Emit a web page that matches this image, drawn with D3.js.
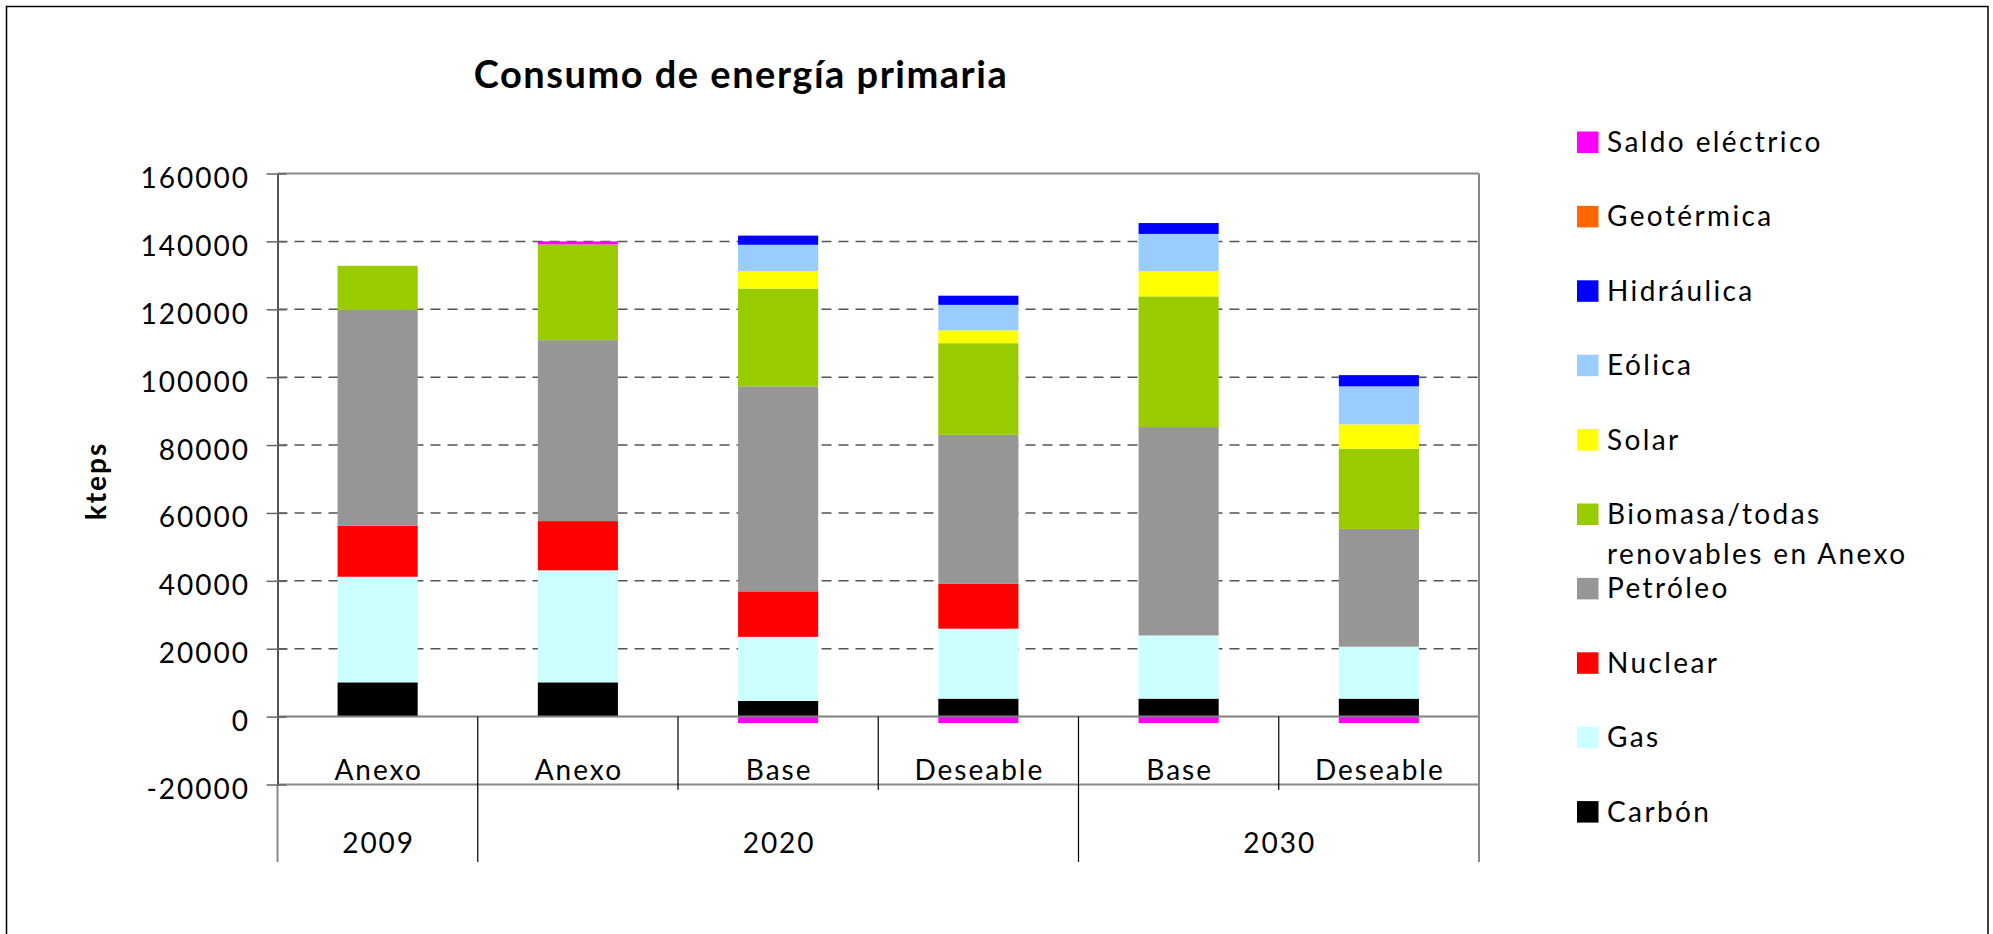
<!DOCTYPE html>
<html>
<head>
<meta charset="utf-8">
<script src="https://cdn.jsdelivr.net/npm/d3@7"></script>
<style>
body { margin: 0; background: #fff; }
text { font-family: Lato, "Open Sans", sans-serif; fill: #000; }
</style>
</head>
<body>
<script>
var escenarios = ["Anexo", "Anexo", "Base", "Deseable", "Base", "Deseable"];
var anios = ["2009", "2020", "2020", "2020", "2030", "2030"];
var fuentes = ["Carbón", "Gas", "Nuclear", "Petróleo", "Biomasa/todas renovables en Anexo",
    "Solar", "Eólica", "Hidráulica", "Geotérmica", "Saldo eléctrico"];
var colores = ["#000000", "#ccffff", "#ff0000", "#969696", "#99cc00",
    "#ffff00", "#99ccff", "#0000ff", "#ff6600", "#ff00ff"];

// kteps
var carbon = [10100, 10100, 4600, 5300, 5300, 5300];
var gas = [31100, 33000, 18900, 20600, 18600, 15300];
var nuclear = [15000, 14500, 13400, 13200, 0, 0];
var petroleo = [63600, 53300, 60400, 43900, 61400, 34700];
var biomasa = [13000, 28200, 28800, 27000, 38500, 23600];
var solar = [0, 0, 5200, 3800, 7500, 7200];
var eolica = [0, 0, 7700, 7500, 10900, 11200];
var hidraulica = [0, 0, 2700, 2700, 3200, 3300];
var geotermica = [0, 0, 0, 0, 0, 0];
var saldo = [0, 900, -1900, -1900, -1900, -1900];
var valores = [carbon, gas, nuclear, petroleo, biomasa, solar, eolica, hidraulica, geotermica, saldo];
var ticks = [-20000, 0, 20000, 40000, 60000, 80000, 100000, 120000, 140000, 160000];

var tabla = escenarios.map(function (e, i) {
    var fila = {id: String(i)};
    fuentes.forEach(function (f, j) { fila[f] = valores[j][i]; });
    return fila;
});
var ids = tabla.map(function (d) { return d.id; });

var x0 = 277.5, x1 = 1479, yBase = 862;

var svg = d3.select("body").append("svg")
    .attr("width", 1993)
    .attr("height", 934);

svg.append("rect")
    .attr("x", 6.5).attr("y", 6.5)
    .attr("width", 1981.5).attr("height", 940)
    .attr("fill", "#fff")
    .attr("stroke", "#000")
    .attr("stroke-width", 1.5);

var y = d3.scaleLinear().domain([-20000, 160000]).range([784.5, 173.5]);
var xCell = d3.scaleBand().domain(ids).range([x0, x1]);
var xBar = d3.scaleBand().domain(ids).range([x0, x1]).paddingInner(0.6).paddingOuter(0.3);

svg.append("text")
    .attr("x", 741)
    .attr("y", 88)
    .attr("text-anchor", "middle")
    .style("font-size", "38px")
    .style("font-weight", "bold")
    .style("letter-spacing", "1.5px")
    .text("Consumo de energía primaria");

svg.append("text")
    .attr("transform", "translate(96,481) rotate(-90)")
    .attr("text-anchor", "middle")
    .attr("dy", "0.35em")
    .style("font-size", "28px")
    .style("font-weight", "bold")
    .style("letter-spacing", "2px")
    .text("kteps");

// lineas de division
svg.append("g").selectAll("line")
    .data(ticks.filter(function (t) { return t != 0 && t != -20000 && t != 160000; }))
    .join("line")
    .attr("x1", x0).attr("x2", x1)
    .attr("y1", function (d) { return y(d); })
    .attr("y2", function (d) { return y(d); })
    .attr("stroke", "#555")
    .attr("stroke-width", 1.5)
    .attr("stroke-dasharray", "10,7");

svg.append("line")
    .attr("x1", x0).attr("x2", x1)
    .attr("y1", y(160000)).attr("y2", y(160000))
    .attr("stroke", "#888").attr("stroke-width", 2);
svg.append("line")
    .attr("x1", x1).attr("x2", x1)
    .attr("y1", y(160000)).attr("y2", yBase)
    .attr("stroke", "#888").attr("stroke-width", 2);
svg.append("line")
    .attr("x1", x0).attr("x2", x1)
    .attr("y1", y(-20000)).attr("y2", y(-20000))
    .attr("stroke", "#888").attr("stroke-width", 2);
svg.append("line")
    .attr("x1", x0).attr("x2", x0)
    .attr("y1", y(-20000)).attr("y2", yBase)
    .attr("stroke", "#888").attr("stroke-width", 2);

var series = d3.stack().keys(fuentes).offset(d3.stackOffsetDiverging)(tabla);

svg.append("g").selectAll("g")
    .data(series)
    .join("g")
    .attr("fill", function (d, i) { return colores[i]; })
    .selectAll("rect")
    .data(function (d) { return d; })
    .join("rect")
    .attr("x", function (d) { return xBar(d.data.id); })
    .attr("width", xBar.bandwidth())
    .attr("y", function (d) { return y(Math.max(d[0], d[1])); })
    .attr("height", function (d) { return Math.abs(y(d[0]) - y(d[1])); });

svg.append("line")
    .attr("x1", x0).attr("x2", x1)
    .attr("y1", y(0)).attr("y2", y(0))
    .attr("stroke", "#808080").attr("stroke-width", 2);

var eje = svg.append("g")
    .attr("transform", "translate(" + x0 + ",0)")
    .call(d3.axisLeft(y).tickValues(ticks).tickSizeOuter(0).tickSizeInner(11)
        .tickFormat(function (d) { return String(d); }));
eje.select(".domain").attr("stroke", "#555").attr("stroke-width", 2);
eje.selectAll(".tick line").attr("x1", 9).attr("stroke", "#666").attr("stroke-width", 1.5);
eje.selectAll(".tick text")
    .attr("x", -27.5)
    .attr("dy", "0.5em")
    .style("font-size", "28px")
    .style("font-family", "Lato, sans-serif")
    .style("letter-spacing", "2px");

// separadores del eje de categorias
var bordes = ids.map(function (id) { return xCell(id); }).concat([x1]);
svg.append("g").selectAll("line")
    .data(bordes.slice(1, -1))
    .join("line")
    .attr("x1", function (d) { return d; })
    .attr("x2", function (d) { return d; })
    .attr("y1", y(0))
    .attr("y2", function (d, i) { return anios[i + 1] != anios[i] ? yBase : 790; })
    .attr("stroke", "#000")
    .attr("stroke-width", 1.2);

svg.append("g").selectAll("text")
    .data(tabla)
    .join("text")
    .attr("x", function (d) { return xCell(d.id) + xCell.bandwidth() / 2 + 1; })
    .attr("y", 780)
    .attr("text-anchor", "middle")
    .style("font-size", "28px")
    .style("letter-spacing", "2px")
    .text(function (d, i) { return escenarios[i]; });

var grupos = [];
anios.forEach(function (a, i) {
    var g = grupos[grupos.length - 1];
    if (g && g.anio == a) g.fin = i;
    else grupos.push({anio: a, ini: i, fin: i});
});

svg.append("g").selectAll("text")
    .data(grupos)
    .join("text")
    .attr("x", function (d) { return (xCell(ids[d.ini]) + xCell(ids[d.fin]) + xCell.bandwidth()) / 2 + 1; })
    .attr("y", 853)
    .attr("text-anchor", "middle")
    .style("font-size", "28px")
    .style("letter-spacing", "2px")
    .text(function (d) { return d.anio; });

// leyenda
var orden = fuentes.slice().reverse();
var ly = d3.scalePoint().domain(orden).range([142, 811.6]);
var leyenda = svg.append("g").selectAll("g")
    .data(orden)
    .join("g")
    .attr("transform", function (d) { return "translate(1577," + ly(d) + ")"; });

leyenda.append("rect")
    .attr("y", -10.5)
    .attr("width", 21.5)
    .attr("height", 21.5)
    .attr("fill", function (d) { return colores[fuentes.indexOf(d)]; });

leyenda.append("text")
    .attr("x", 30)
    .attr("y", 10)
    .style("font-size", "28px")
    .style("letter-spacing", "2.4px")
    .each(function (d) {
        var t = d3.select(this);
        if (d.indexOf("/") > 0) {
            t.append("tspan").attr("x", 30).text("Biomasa/todas");
            t.append("tspan").attr("x", 30).attr("dy", 39.5).text("renovables en Anexo");
        } else {
            t.text(d);
        }
    });
</script>
</body>
</html>
